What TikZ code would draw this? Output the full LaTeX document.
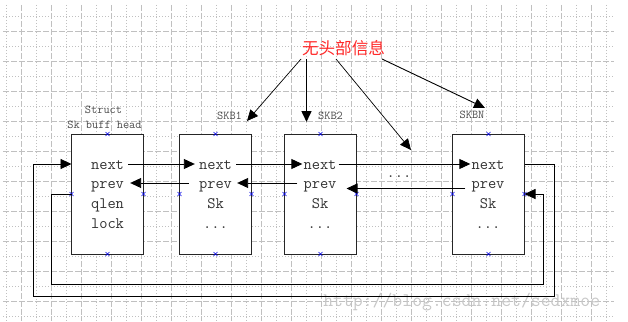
\documentclass[tikz,border=0pt]{standalone}
\usepackage{fontspec}
\newfontfamily\cjk{Noto Sans CJK SC}
\usetikzlibrary{arrows.meta}
\definecolor{gridc}{RGB}{192,192,192}
\definecolor{titlered}{RGB}{255,40,40}
\definecolor{markblue}{RGB}{0,0,230}
\begin{document}
\begin{tikzpicture}[x=1pt,y=-1pt,
  gridl/.style={draw=gridc, line width=0.7pt},
  gdash/.style={gridl, dash pattern=on 6pt off 2pt},
  gdot/.style={gridl, dash pattern=on 1pt off 2pt},
  box/.style={draw=black!85, fill=white, line width=0.9pt, minimum width=72pt, minimum height=120pt, inner sep=0pt, outer sep=0pt},
  txt/.style={font=\ttfamily\fontsize{16}{16}\selectfont, text=black!80, inner sep=0pt, text height=10pt, text depth=0pt, anchor=base},
  lbl/.style={font=\ttfamily\fontsize{12}{12}\selectfont, text=black!70, inner sep=0pt, anchor=base},
  conn/.style={draw=black, line width=0.9pt},
  arr/.style={conn, -{Triangle[length=11pt,width=10pt]}},
  xmark/.style={draw=markblue, line width=0.6pt},
  ]
\useasboundingbox (0,0) rectangle (628,321);
% grid
\foreach \k in {0,...,40}{%
  \ifodd\k
    \draw[gdash] (6.7+15*\k,5) -- (6.7+15*\k,321);
  \else
    \draw[gdot] (6.7+15*\k,5) -- (6.7+15*\k,321);
  \fi}
\foreach \k in {1,...,21}{%
  \ifodd\k
    \draw[gdot] (3,1.5+15*\k) -- (614,1.5+15*\k);
  \else
    \draw[gdash] (3,1.5+15*\k) -- (614,1.5+15*\k);
  \fi}
% watermark
\node[font=\ttfamily\fontsize{19.2}{19.2}\selectfont, text=black!22, inner sep=0pt, anchor=base] (wm) at (461.7,306.7) {http://blog.csdn.net/sedxmoe};
% boxes
\node[box] (b1) at (107.5,194) {};
\node[box] (b2) at (215.5,194) {};
\node[box] (b3) at (320.5,194) {};
\node[box] (b4) at (488.5,194) {};
% box texts
\node[txt] (b1n) at (107.5,169) {next};
\node[txt] (b1p) at (107.5,188) {prev};
\node[txt] (b1q) at (107.5,208) {qlen};
\node[txt] (b1l) at (107.5,228) {lock};
\node[txt] (b2n) at (215.5,169) {next};
\node[txt] (b2p) at (215.5,188) {prev};
\node[txt] (b2s) at (215.5,208) {Sk};
\node[txt] (b2d) at (215.5,228) {...};
\node[txt] (b3n) at (320,169) {next};
\node[txt] (b3p) at (320,188) {prev};
\node[txt] (b3s) at (320,208) {Sk};
\node[txt] (b3d) at (320,228) {...};
\node[txt] (b4n) at (488,169) {next};
\node[txt] (b4p) at (488,188) {prev};
\node[txt] (b4s) at (488,208) {Sk};
\node[txt] (b4d) at (488,228) {...};
\node[txt] (dd) at (399,177) {...};
% labels
\node[lbl] (st) at (103.5,113.3) {Struct};
\node[lbl] (sh) at (104.5,128.3) {Sk buff head};
\node[lbl] (k1) at (229.5,119) {SKB1};
\node[lbl] (k2) at (330.5,119) {SKB2};
\node[lbl] (kn) at (472,118.5) {SKBN};
% title
\node[font=\cjk\fontsize{16.6}{16.6}\selectfont, text=titlered, inner sep=0pt, anchor=base] (t) at (343.5,54) {无头部信息};
% markers
\foreach \b in {b1,b2,b3,b4}{\foreach \a in {north,south,east,west}{%
  \draw[xmark] ([shift={(-2pt,-2pt)}]\b.\a) -- ([shift={(2pt,2pt)}]\b.\a)
               ([shift={(-2pt,2pt)}]\b.\a) -- ([shift={(2pt,-2pt)}]\b.\a);}}
% next / prev connectors
\draw[arr] ([xshift=4pt]b1n.east) -- ([xshift=-4pt]b2n.west);
\draw[arr] ([xshift=4pt]b2n.east) -- ([xshift=-1pt]b3n.west);
\draw[arr] ([xshift=2pt]b3n.east) -- ([xshift=-1pt]b4n.west);
\draw[arr] ([xshift=-10pt]b2p.west) -- ([xshift=6pt]b1p.east);
\draw[arr] ([xshift=-6pt]b3p.west) -- ([xshift=5pt]b2p.east);
\draw[arr] ([xshift=-6pt,yshift=-5.5pt]b4p.west) -- ([xshift=-10pt,yshift=5.5pt]b3.east);
% loops
\coordinate (oR) at (554,296);
\coordinate (oL) at (33,296);
\draw[arr] ([yshift=30pt]b4.east) -| (oR) -- (oL) |- ([yshift=30pt]b1.west);
\coordinate (iL) at (51,284);
\coordinate (iR) at (543,284);
\draw[arr] (b1.west) -| (iL) -- (iR) |- (b4.east);
% title arrows
\draw[arr, line width=0.7pt] ([xshift=-42.5pt,yshift=-5pt]t.base) -- ([xshift=31.5pt,yshift=13pt]b2.north);
\draw[arr, line width=1.5pt] ([xshift=-37pt,yshift=-5pt]t.base) -- ([xshift=-14pt,yshift=12pt]b3.north);
\draw[arr, line width=0.7pt] ([xshift=-7.5pt,yshift=-5pt]t.base) -- ([xshift=12pt,yshift=27pt]dd.base);
\draw[arr, line width=0.9pt] ([xshift=38.5pt,yshift=-5pt]t.base) -- ([xshift=-3.5pt,yshift=26pt]b4.north);
\end{tikzpicture}
\end{document}
